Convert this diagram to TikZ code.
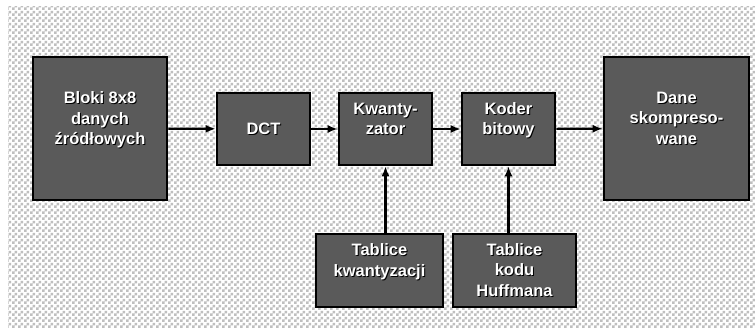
\documentclass[tikz,border=0pt]{standalone}
\usepackage{fontspec}
\setmainfont{Liberation Sans}
\usetikzlibrary{patterns,arrows.meta}

% kratka w tle
\pgfdeclarepatternformonly{kratka}{\pgfqpoint{0pt}{0pt}}{\pgfqpoint{6pt}{6pt}}{\pgfqpoint{6pt}{6pt}}%
{\pgfpathrectangle{\pgfqpoint{0pt}{0pt}}{\pgfqpoint{3pt}{3pt}}%
 \pgfpathrectangle{\pgfqpoint{3pt}{3pt}}{\pgfqpoint{3pt}{3pt}}\pgfusepath{fill}}

\definecolor{blok}{HTML}{5A5A5A}

% tekst z cieniem
\newcommand{\cien}[1]{\makebox[0pt][l]{\hspace{1pt}\raisebox{-1pt}{\color{black}#1}}#1}

\begin{document}
\begin{tikzpicture}
		[
		x=1pt, y=-1pt, font=\fontsize{16.5pt}{20.5pt}\selectfont\bfseries, >={Latex[length=10pt,width=8pt]},
		%Voreinstellung fuer Bloecke
		box/.style={draw=black, line width=2.6pt, fill=blok, text=white, align=center, inner sep=0pt},
		pfeil/.style={->, line width=2.2pt}
		]
		
		\useasboundingbox (0,0) rectangle (755,328);
		
		%Tlo w kratke
		\fill[white] (8,7) rectangle (755,328);
		\fill[pattern=kratka, pattern color=black!25] (8,7) rectangle (755,328);
		
		%Bloki glowne
		\node[box, minimum width=134pt, minimum height=143pt] (zrodlo) at (100,128.5) {\cien{Bloki 8x8}\\\cien{danych}\\\cien{źródłowych}\\\mbox{}};
		\node[box, minimum width=93pt, minimum height=72pt] (dct) at (263.5,129) {\cien{DCT}};
		\node[box, minimum width=93pt, minimum height=72pt] (kwant) at (385.5,129) {\cien{Kwanty-}\\\cien{zator}\\\mbox{}};
		\node[box, minimum width=93pt, minimum height=72pt] (koder) at (508.5,129) {\cien{Koder}\\\cien{bitowy}\\\mbox{}};
		\node[box, minimum width=145pt, minimum height=143pt] (dane) at (676.5,128.5) {\cien{Dane}\\\cien{skompreso-}\\\cien{wane}\\\mbox{}};
		
		%Tablice
		\node[box, minimum width=127pt, minimum height=73pt] (tabkw) at (379.5,270.5) {\cien{Tablice}\\\cien{kwantyzacji}\\\mbox{}};
		\node[box, minimum width=123pt, minimum height=73pt] (tabhuf) at (514.5,270.5) {\cien{Tablice}\\\cien{kodu}\\\cien{Huffmana}};
		
		%Strzalki poziome
		\draw[pfeil] (zrodlo) -- (dct);
		\draw[pfeil] (dct) -- (kwant);
		\draw[pfeil] (kwant) -- (koder);
		\draw[pfeil] (koder) -- (dane);
		
		%Strzalki pionowe
		\draw[pfeil] (tabkw.north -| kwant.south) -- (kwant.south);
		\draw[pfeil] (tabhuf.north -| koder.south) -- (koder.south);
		
	\end{tikzpicture}
\end{document}
